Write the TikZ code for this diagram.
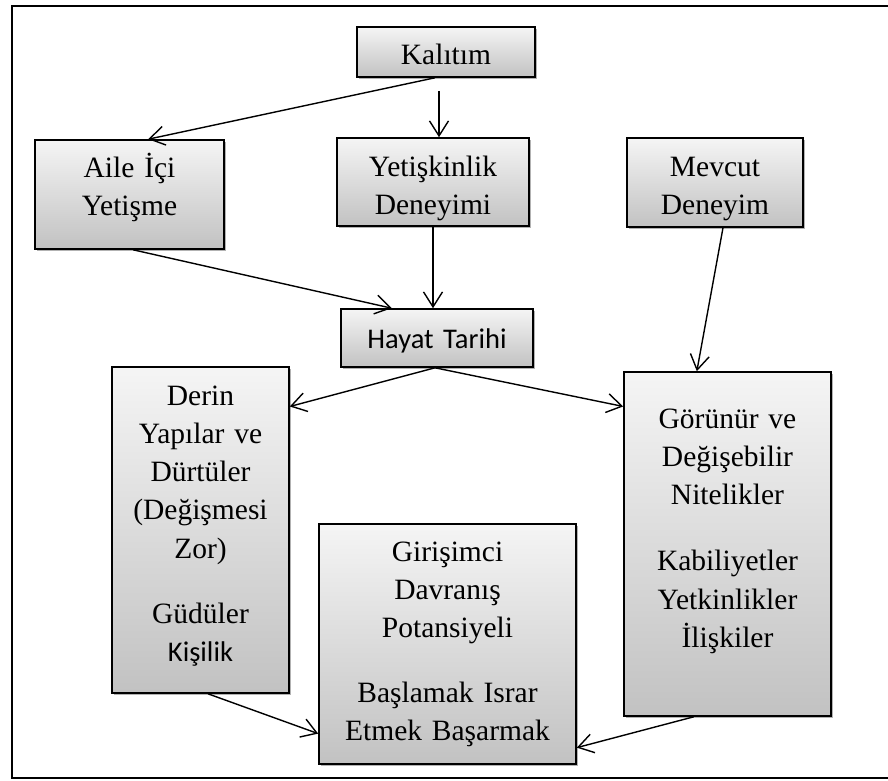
\documentclass[tikz,border=0pt]{standalone}
\usepackage{fontspec}
\setmainfont{Liberation Serif}
\newfontfamily\calibri{Carlito}
\usetikzlibrary{arrows.meta,shadows,calc}
\begin{document}
\begin{tikzpicture}[x=1pt,y=-1pt,
  box/.style={draw=black, line width=1.6pt, inner sep=0pt, top color=gray!8, bottom color=gray!48,
    drop shadow={shadow xshift=2pt, shadow yshift=-2pt, opacity=0.3, fill=black}},
  txt/.style={anchor=base, align=center, text width=#1, inner sep=0pt,
    font=\fontsize{29.5}{38.3}\selectfont},
  txt/.default=220pt,
  conn/.style={line width=1.4pt, -{Straight Barb[length=15pt,width=19pt,line width=1.4pt]}}]
\useasboundingbox (0,0) rectangle (888,781);
\draw[line width=2pt] (12,6) rectangle (895,778);
% boxes
\node[box, minimum width=178pt, minimum height=50pt] (kal) at (446,52) {};
\node[box, minimum width=189pt, minimum height=109pt] (aile) at (129.5,194.5) {};
\node[box, minimum width=192pt, minimum height=88pt] (yet) at (433,182) {};
\node[box, minimum width=176pt, minimum height=89pt] (mev) at (715,182.5) {};
\node[box, minimum width=192pt, minimum height=58pt] (hay) at (437,338) {};
\node[box, minimum width=177pt, minimum height=326pt] (der) at (200.5,530) {};
\node[box, minimum width=257pt, minimum height=240pt] (gir) at (447.5,644) {};
\node[box, minimum width=207pt, minimum height=344pt] (gor) at (727.5,544) {};
% texts
\node[txt] (kalt) at (446,65) {Kalıtım};
\node[txt] (ailet) at (129.5,177) {Aile İçi\\Yetişme};
\node[txt] (yett) at (433,176) {Yetişkinlik\\Deneyimi};
\node[txt] (mevt) at (715,176) {Mevcut\\Deneyim};
\node[txt, font=\calibri\fontsize{28.5}{36}\selectfont] (hayt) at (437,348) {Hayat Tarihi};
\node[txt] (dert) at (200.5,405) {Derin\\Yapılar ve\\Dürtüler\\(Değişmesi\\Zor)\\[26.5pt]Güdüler\\{\calibri\fontsize{28.5}{40}\selectfont Kişilik}};
\node[txt=250pt] (girt) at (447.5,561) {Girişimci\\Davranış\\Potansiyeli\\[26.5pt]Başlamak Israr\\Etmek Başarmak};
\node[txt] (gort) at (727.5,428) {Görünür ve\\Değişebilir\\Nitelikler\\[28pt]Kabiliyetler\\Yetkinlikler\\İlişkiler};
% connectors
\draw[conn] ($(kal.south west)!0.438!(kal.south east)$) -- ($(aile.north west)!0.598!(aile.north east)$);
\draw[conn] ($(kal.south)+(-7,13)$) -- ($(yet.north)+(6,0)$);
\draw[conn] ($(aile.south west)!0.519!(aile.south east)$) -- ($(hay.north west)!0.266!(hay.north east)$);
\draw[conn] (yet.south) -- (yet.south |- hay.north);
\draw[conn] ($(mev.south west)!0.545!(mev.south east)$) -- ($(gor.north west)!0.353!(gor.north east)$);
\draw[conn] ($(hay.south)+(-2,0)$) -- ($(der.north east)!0.123!(der.south east)$);
\draw[conn] ($(hay.south)+(-2,0)$) -- ($(gor.north west)!0.102!(gor.south west)$);
\draw[conn] ($(der.south west)!0.542!(der.south east)$) -- ($(gir.north west)!0.871!(gir.south west)$);
\draw[conn] ($(gor.south west)!0.338!(gor.south east)$) -- ($(gir.north east)!0.929!(gir.south east)$);
\end{tikzpicture}
\end{document}
